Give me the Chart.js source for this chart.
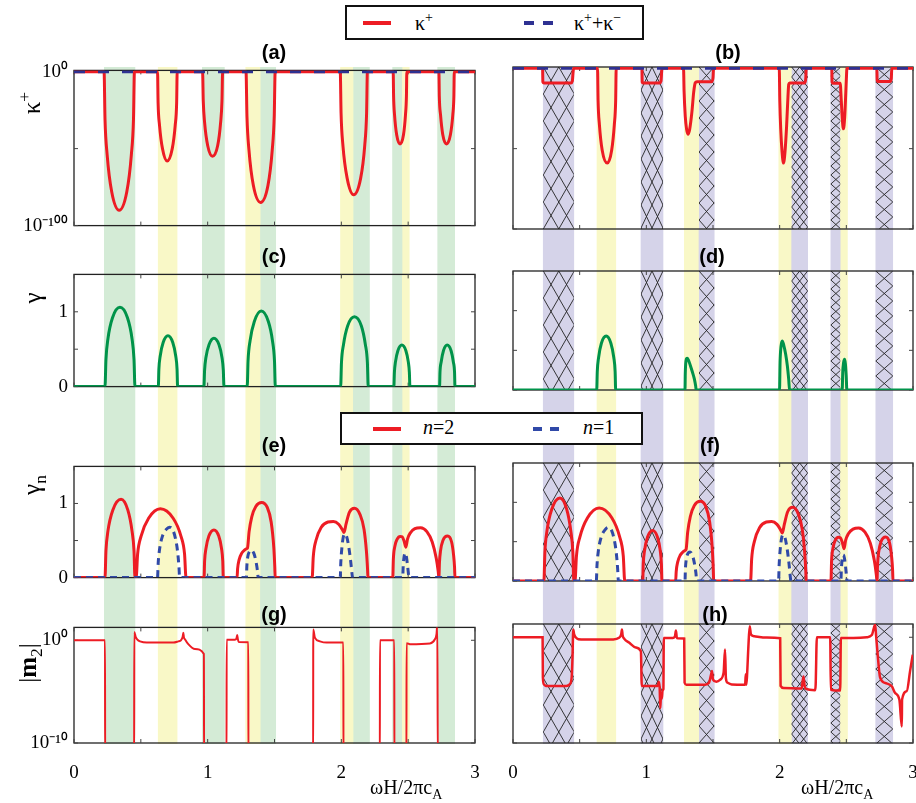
<!DOCTYPE html>
<html>
<head>
<meta charset="utf-8">
<script src="https://cdn.jsdelivr.net/npm/chart.js@4.4.1/dist/chart.umd.min.js"></script>
<style>
  body { margin: 0; background: #fff; width: 916px; height: 803px; overflow: hidden; position: relative; font-family: "Liberation Serif", serif; }
  canvas { position: absolute; }
  .ptitle { position: absolute; font: bold 20px "Liberation Sans", Arial, sans-serif; transform: translate(-50%, -50%); white-space: nowrap; }
  .ylab { position: absolute; font: 25px "Liberation Serif", serif; transform: translate(-50%, -50%) rotate(-90deg); white-space: nowrap; }
  .xlab { position: absolute; font: 20px "Liberation Serif", serif; white-space: nowrap; }
  .legend { position: absolute; background: #fff; border: 2.5px solid #111; box-sizing: border-box; z-index: 5; }
  .legend span { position: absolute; font: 20px "Liberation Serif", serif; white-space: nowrap; }
  .swatch { position: absolute; height: 4px; }
  sub, sup { font-size: 70%; }
</style>
</head>
<body>
<script>
// x axis (omega H / 2 pi c_A)
const xTicks = [0, 0.5, 1, 1.5, 2, 2.5, 3];
const xLabelTicks = [0, 1, 2, 3];

// shaded frequency bands
const gapBands = [[0.227, 0.456], [0.96, 1.125], [1.395, 1.509], [2.09, 2.21], [2.384, 2.454], [2.721, 2.848]];
const passBands = [[0.63, 0.771], [1.285, 1.395], [1.994, 2.09], [2.454, 2.508]];
// cross-hatch cell size (px) in each gap band: width, height
const hatchW = [15.5, 11, 15, 8, 10, 17];
const hatchH = [27, 23, 17, 10, 9, 15];

// (a) kappa+ and kappa+ + kappa-
const kappaPlusA = [
  [0, 1],
  [0.225, 1], [0.232, 1e-31], [0.248, 1e-54], [0.282, 1e-78], [0.338, 1e-90], [0.395, 1e-78], [0.429, 1e-54], [0.445, 1e-31], [0.452, 1],
  [0.625, 1], [0.629, 1e-20], [0.640, 1e-35], [0.662, 1e-50], [0.697, 1e-58], [0.735, 1e-50], [0.757, 1e-35], [0.768, 1e-20], [0.772, 1],
  [0.962, 1], [0.967, 1e-19], [0.977, 1e-33], [1.000, 1e-48], [1.036, 1e-55], [1.075, 1e-48], [1.097, 1e-33], [1.107, 1e-19], [1.112, 1],
  [1.287, 1], [1.294, 1e-29], [1.309, 1e-51], [1.342, 1e-74], [1.396, 1e-85], [1.451, 1e-74], [1.483, 1e-51], [1.498, 1e-29], [1.505, 1],
  [1.992, 1], [1.998, 1e-27], [2.012, 1e-48], [2.043, 1e-69], [2.092, 1e-80], [2.145, 1e-69], [2.175, 1e-48], [2.189, 1e-27], [2.195, 1],
  [2.388, 1], [2.391, 1e-16], [2.398, 1e-28], [2.414, 1e-41], [2.439, 1e-47], [2.465, 1e-41], [2.480, 1e-28], [2.487, 1e-16], [2.490, 1],
  [2.730, 1], [2.733, 1e-16], [2.742, 1e-28], [2.759, 1e-41], [2.787, 1e-47], [2.816, 1e-41], [2.834, 1e-28], [2.842, 1e-16], [2.845, 1],
  [3, 1]
];
const kappaSum = [[0, 1], [3, 1]];

// (b) kappa+ with absorption
const kappaPlusB = [
  [0, 1], [0.222, 1], [0.224, 3e-9], [0.232, 8e-10], [0.435, 8e-10], [0.445, 1e-8], [0.451, 1e-2], [0.455, 1],
  [0.634, 1], [0.638, 1e-20], [0.648, 1e-35], [0.669, 1e-51], [0.707, 1e-59], [0.740, 1e-51], [0.760, 1e-35], [0.770, 1e-20], [0.774, 1],
  [0.967, 1], [0.969, 3e-9], [0.975, 8e-10], [1.100, 8e-10], [1.110, 1e-8], [1.115, 1e-2], [1.117, 1],
  [1.279, 1], [1.283, 1e-14], [1.292, 1e-30], [1.302, 1e-38], [1.312, 1e-41], [1.325, 1e-38], [1.342, 1e-27], [1.355, 1e-15], [1.367, 1e-9], [1.380, 5e-9], [1.490, 5e-9], [1.500, 1e-6], [1.504, 1],
  [1.997, 1], [2.001, 1e-20], [2.008, 1e-38], [2.018, 1e-52], [2.029, 1e-59], [2.040, 1e-52], [2.052, 1e-36], [2.062, 1e-18], [2.068, 1e-10], [2.075, 8e-10], [2.188, 8e-10], [2.196, 1e-6], [2.199, 1],
  [2.391, 1], [2.393, 3e-9], [2.398, 5e-10], [2.454, 5e-10], [2.462, 1e-20], [2.470, 1e-32], [2.478, 2e-38], [2.488, 1e-30], [2.496, 1e-15], [2.502, 1e-3], [2.504, 1],
  [2.729, 1], [2.731, 3e-8], [2.737, 6e-9], [2.828, 6e-9], [2.837, 3e-7], [2.841, 1], [3, 1]
];

// (c) gamma, lossless
const gammaC = [
  [0, 0],
  [0.232, 0], [0.239, 0.36], [0.254, 0.64], [0.288, 0.92], [0.344, 1.06], [0.400, 0.92], [0.434, 0.64], [0.449, 0.36], [0.456, 0],
  [0.631, 0], [0.635, 0.23], [0.645, 0.41], [0.667, 0.59], [0.703, 0.68], [0.739, 0.59], [0.761, 0.41], [0.771, 0.23], [0.775, 0],
  [0.972, 0], [0.977, 0.22], [0.987, 0.39], [1.010, 0.56], [1.047, 0.647], [1.085, 0.56], [1.107, 0.39], [1.117, 0.22], [1.122, 0],
  [1.296, 0], [1.302, 0.34], [1.317, 0.61], [1.349, 0.87], [1.401, 1.01], [1.454, 0.87], [1.485, 0.61], [1.500, 0.34], [1.506, 0],
  [1.995, 0], [2.001, 0.32], [2.016, 0.56], [2.047, 0.81], [2.098, 0.933], [2.150, 0.81], [2.180, 0.56], [2.195, 0.32], [2.201, 0],
  [2.393, 0], [2.397, 0.19], [2.405, 0.33], [2.423, 0.48], [2.453, 0.555], [2.483, 0.48], [2.501, 0.33], [2.509, 0.19], [2.513, 0],
  [2.735, 0], [2.738, 0.19], [2.747, 0.33], [2.764, 0.48], [2.792, 0.555], [2.821, 0.48], [2.838, 0.33], [2.847, 0.19], [2.850, 0],
  [3, 0]
];

// (d) gamma, with absorption
const gammaD = [
  [0, 0],
  [0.628, 0], [0.632, 0.23], [0.642, 0.41], [0.663, 0.59], [0.699, 0.68], [0.734, 0.59], [0.756, 0.41], [0.766, 0.23], [0.770, 0],
  [1.290, 0], [1.292, 0.2], [1.295, 0.33], [1.300, 0.39], [1.306, 0.40], [1.315, 0.38], [1.330, 0.31], [1.345, 0.23], [1.360, 0.14], [1.370, 0.05], [1.374, 0],
  [1.999, 0], [2.003, 0.35], [2.010, 0.55], [2.019, 0.618], [2.030, 0.57], [2.045, 0.45], [2.058, 0.3], [2.068, 0.13], [2.074, 0],
  [2.469, 0], [2.473, 0.22], [2.479, 0.34], [2.487, 0.387], [2.493, 0.33], [2.499, 0.18], [2.504, 0],
  [3, 0]
];

// (e),(f) gamma_n, n = 2 and n = 1
const gammaN2 = [
  [0, 0],
  [0.232, 0], [0.239, 0.36], [0.254, 0.63], [0.290, 0.91], [0.352, 1.056], [0.403, 0.91], [0.434, 0.63], [0.449, 0.36], [0.456, 0],
  [0.465, 0], [0.476, 0.32], [0.502, 0.56], [0.558, 0.80], [0.646, 0.928], [0.742, 0.80], [0.800, 0.56], [0.827, 0.32], [0.838, 0],
  [0.973, 0], [0.977, 0.22], [0.987, 0.39], [1.009, 0.56], [1.047, 0.643], [1.083, 0.56], [1.104, 0.39], [1.113, 0.22], [1.117, 0],
  [1.220, 0], [1.224, 0.12], [1.235, 0.24], [1.255, 0.33], [1.275, 0.37], [1.292, 0.39], [1.298, 0.40], [1.310, 0.62], [1.330, 0.82], [1.360, 0.96], [1.404, 1.013], [1.445, 0.95], [1.475, 0.75], [1.495, 0.4], [1.502, 0.15], [1.505, 0],
  [1.782, 0], [1.790, 0.28], [1.810, 0.50], [1.850, 0.68], [1.900, 0.75], [1.940, 0.757], [1.980, 0.72], [2.010, 0.64], [2.020, 0.609], [2.035, 0.72], [2.060, 0.88], [2.098, 0.936], [2.140, 0.85], [2.170, 0.65], [2.188, 0.35], [2.196, 0.12], [2.199, 0],
  [2.385, 0], [2.389, 0.24], [2.400, 0.42], [2.418, 0.52], [2.440, 0.556], [2.455, 0.55], [2.470, 0.49], [2.483, 0.41], [2.495, 0.52], [2.515, 0.60], [2.550, 0.66], [2.593, 0.673], [2.640, 0.62], [2.680, 0.48], [2.710, 0.26], [2.725, 0.08], [2.730, 0],
  [2.734, 0.2], [2.742, 0.36], [2.760, 0.50], [2.795, 0.56], [2.825, 0.48], [2.840, 0.3], [2.847, 0.14], [2.850, 0],
  [3, 0]
];
const gammaN1 = [
  [0, 0],
  [0.625, 0], [0.630, 0.2], [0.640, 0.38], [0.660, 0.55], [0.690, 0.65], [0.715, 0.68], [0.740, 0.64], [0.760, 0.52], [0.775, 0.35], [0.785, 0.15], [0.790, 0],
  [1.290, 0], [1.293, 0.15], [1.300, 0.28], [1.312, 0.35], [1.327, 0.37], [1.345, 0.33], [1.360, 0.23], [1.372, 0.1], [1.378, 0],
  [1.992, 0], [1.996, 0.2], [2.004, 0.40], [2.014, 0.54], [2.026, 0.588], [2.040, 0.55], [2.055, 0.42], [2.070, 0.22], [2.080, 0.05], [2.084, 0],
  [2.459, 0], [2.463, 0.16], [2.469, 0.28], [2.477, 0.332], [2.486, 0.29], [2.495, 0.17], [2.502, 0.05], [2.505, 0],
  [3, 0]
];

// (g),(h) |m2|
const m2G = [
  [0, 1], [0.232, 1], [0.233, 1e-12], [0.450, 1e-12], [0.451, 6.3], [0.462, 2], [0.475, 1.12], [0.494, 0.79], [0.544, 0.6], [0.743, 0.6],
  [0.780, 0.79], [0.800, 1], [0.813, 2.2], [0.818, 5.4], [0.822, 2], [0.830, 1.26], [0.855, 0.42], [0.905, 0.14], [0.972, 0.047], [0.973, 1e-12],
  [1.141, 1e-12], [1.142, 1.15], [1.204, 1.15], [1.215, 1.4], [1.221, 3.2], [1.226, 1.26], [1.232, 0.69], [1.304, 0.63], [1.305, 1e-12],
  [1.789, 1e-12], [1.790, 11], [1.802, 1.8], [1.840, 0.79], [1.890, 0.6], [2.015, 0.6], [2.016, 1e-12],
  [2.288, 1e-12], [2.289, 1], [2.396, 1], [2.397, 1e-12],
  [2.487, 1e-12], [2.488, 0.52], [2.513, 0.42], [2.663, 0.5], [2.700, 1.26], [2.712, 4], [2.718, 32], [2.722, 1e-12], [3, 1e-12]
];
const m2H = [
  [0, 1], [0.222, 1], [0.224, 1.6e-4], [0.232, 3.5e-5], [0.250, 2.4e-5], [0.400, 2.5e-5], [0.425, 3.5e-5], [0.440, 1.6e-4], [0.446, 1e-2],
  [0.452, 5.4], [0.458, 2], [0.470, 1], [0.490, 0.66], [0.540, 0.6], [0.750, 0.63], [0.795, 0.89], [0.812, 2], [0.817, 5.4], [0.822, 1.6],
  [0.835, 0.71], [0.870, 0.32], [0.920, 0.11], [0.959, 0.047], [0.966, 2.5e-5], [1.085, 2.5e-5], [1.093, 6.3e-5], [1.100, 1.6e-5],
  [1.105, 2e-7], [1.110, 5e-6], [1.116, 1.6e-6], [1.122, 1e-5], [1.128, 1.26e-5], [1.131, 0.87], [1.200, 0.87], [1.215, 1.26], [1.222, 4.3],
  [1.228, 1], [1.236, 0.79], [1.284, 0.76], [1.287, 5e-5], [1.300, 3.3e-5], [1.440, 3.3e-5], [1.470, 5e-5], [1.486, 3.2e-4], [1.492, 6.3e-4],
  [1.500, 1e-4], [1.525, 6.3e-5], [1.555, 1e-4], [1.580, 5e-4], [1.590, 0.069], [1.597, 1.26e-4], [1.610, 5e-5], [1.640, 3.5e-5],
  [1.741, 3.3e-5], [1.746, 3.2e-4], [1.750, 3.3e-5], [1.755, 2e-4], [1.765, 0.1], [1.775, 11], [1.785, 1.8], [1.810, 1.26], [1.904, 0.93],
  [2.004, 0.79], [2.007, 2.5e-5], [2.030, 1.6e-5], [2.165, 1.4e-5], [2.172, 6.3e-5], [2.179, 2e-4], [2.186, 3.2e-5], [2.195, 1.4e-5],
  [2.266, 1e-5], [2.270, 3.2e-5], [2.279, 1], [2.379, 1], [2.384, 1.1e-5], [2.454, 9e-6], [2.459, 0.87], [2.553, 0.87], [2.654, 1],
  [2.691, 1.6], [2.716, 16], [2.723, 1.6], [2.733, 0.047], [2.753, 1.6e-4], [2.791, 4.8e-5], [2.841, 2.3e-5], [2.866, 5.4e-6],
  [2.898, 1.26e-6], [2.916, 3.7e-9], [2.918, 1.26e-6], [2.953, 8e-6], [2.978, 6.3e-4], [2.998, 0.023]
];

// y ticks per panel type
const kappaTicks = [1e-100, 1e-50, 1];
const kappaTickLabels = ['10⁻¹⁰⁰', '', '10⁰'];
const gammaTicks = [0, 0.5, 1];
const gammaTickLabels = ['0', '', '1'];
const mTicks = [1e-10, 1];
const mTickLabels = ['10⁻¹⁰', '10⁰'];

const RED = '#ed1c24', NAVY = '#2e3192', BLUE = '#3049a8', GREEN = '#00934a';
const C_GREEN = 'rgb(212,235,214)', C_YELLOW = 'rgb(249,248,199)', C_PURPLE = 'rgb(213,211,233)';
const SERIF = '"Liberation Serif", "Times New Roman", serif';

const toXY = pts => pts.map(p => ({ x: p[0], y: p[1] }));

// full-height shaded bands behind each column
function bandChart(left, width, gapColor) {
  const cv = document.createElement('canvas');
  cv.width = width; cv.height = 677;
  cv.style.left = left + 'px'; cv.style.top = '67px';
  document.body.appendChild(cv);
  const bands = [
    ...gapBands.map(b => ({ r: b, c: gapColor })),
    ...passBands.map(b => ({ r: b, c: C_YELLOW }))
  ];
  new Chart(cv, {
    type: 'bar',
    data: {
      labels: [''],
      datasets: bands.map(b => ({ data: [b.r], backgroundColor: b.c, borderWidth: 0, grouped: false, barPercentage: 1, categoryPercentage: 1 }))
    },
    options: {
      indexAxis: 'y', responsive: false, animation: false, events: [], devicePixelRatio: 1,
      layout: { padding: 0 },
      plugins: { legend: { display: false }, tooltip: { enabled: false } },
      scales: { x: { type: 'linear', min: 0, max: 3, display: false }, y: { display: false } }
    }
  });
}

// band fill, cross hatching, box and inward ticks of one panel
function framePlugin(p) {
  return {
    id: 'frame',
    beforeDatasetsDraw(chart) {
      const { ctx, chartArea: a } = chart;
      const xs = chart.scales.x, ys = chart.scales.y;
      const h = a.bottom - a.top;
      ctx.save();
      const gapColor = p.hatch ? C_PURPLE : C_GREEN;
      [[gapBands, gapColor], [passBands, C_YELLOW]].forEach(([list, color]) => {
        ctx.fillStyle = color;
        list.forEach(b => {
          const x0 = xs.getPixelForValue(b[0]), x1 = xs.getPixelForValue(b[1]);
          ctx.fillRect(x0, a.top, x1 - x0, h);
        });
      });
      if (p.hatch) {
        gapBands.forEach((b, i) => {
          const x0 = xs.getPixelForValue(b[0]), x1 = xs.getPixelForValue(b[1]);
          const w = hatchW[i], dx = h * w / hatchH[i];
          ctx.save();
          ctx.beginPath(); ctx.rect(x0, a.top, x1 - x0, h); ctx.clip();
          ctx.beginPath();
          for (let k = x0 - Math.ceil(dx / w) * w; k < x1 + dx + w; k += w) {
            ctx.moveTo(k, a.top); ctx.lineTo(k + dx, a.bottom);
            ctx.moveTo(k, a.top); ctx.lineTo(k - dx, a.bottom);
          }
          ctx.strokeStyle = '#222'; ctx.lineWidth = 0.9; ctx.stroke();
          ctx.restore();
        });
      }
      ctx.strokeStyle = '#222'; ctx.lineWidth = 1.3;
      ctx.strokeRect(a.left, a.top, a.right - a.left, a.bottom - a.top);
      ctx.lineWidth = 1; ctx.strokeStyle = '#444';
      ctx.beginPath();
      xTicks.forEach(v => {
        const px = xs.getPixelForValue(v);
        ctx.moveTo(px, a.bottom); ctx.lineTo(px, a.bottom - 4);
        ctx.moveTo(px, a.top); ctx.lineTo(px, a.top + 4);
      });
      p.yTicks.forEach(v => {
        const py = ys.getPixelForValue(v);
        ctx.moveTo(a.left, py); ctx.lineTo(a.left + 4, py);
        ctx.moveTo(a.right, py); ctx.lineTo(a.right - 4, py);
      });
      ctx.stroke();
      ctx.restore();
    }
  };
}

function panel(p) {
  const padTop = 14;
  const xH = p.showX ? 38 : 0;
  const padBottom = p.showX ? 2 : 14;
  const left = p.col === 0 ? 0 : 493;
  const width = p.col === 0 ? 495 : 440;
  const cv = document.createElement('canvas');
  cv.width = width;
  cv.height = (p.bottom - p.top) + padTop + padBottom + xH;
  cv.style.left = left + 'px'; cv.style.top = (p.top - padTop) + 'px';
  document.body.appendChild(cv);
  const showY = p.col === 0;
  new Chart(cv, {
    type: 'line',
    data: {
      datasets: p.series.map(s => ({
        data: toXY(s.data), borderColor: s.color, borderWidth: s.width, borderDash: s.dash || [],
        pointRadius: 0, fill: false, cubicInterpolationMode: 'monotone'
      }))
    },
    options: {
      responsive: false, animation: false, events: [], devicePixelRatio: 1,
      layout: { padding: { left: showY ? 0 : 20, right: 20, top: padTop, bottom: padBottom } },
      plugins: { legend: { display: false }, tooltip: { enabled: false } },
      scales: {
        x: {
          type: 'linear', min: 0, max: 3, display: !!p.showX,
          afterBuildTicks: s => { s.ticks = xLabelTicks.map(v => ({ value: v })); },
          afterFit: s => { if (p.showX) s.height = xH; },
          ticks: { callback: v => String(v), font: { family: SERIF, size: 19 }, color: '#000', padding: 2, maxRotation: 0, autoSkip: false },
          grid: { display: false, drawTicks: true, tickLength: 17 }, border: { display: false }
        },
        y: {
          type: p.log ? 'logarithmic' : 'linear', min: p.min, max: p.max, display: showY,
          afterBuildTicks: s => { s.ticks = p.yTicks.map(v => ({ value: v })); },
          afterFit: s => { if (showY) s.width = 74; },
          ticks: { callback: (v, i) => p.yLabels[i], font: { family: SERIF, size: 19 }, color: '#000', padding: 6, autoSkip: false },
          grid: { display: false, drawTicks: false }, border: { display: false }
        }
      }
    },
    plugins: [framePlugin(p)]
  });
}

bandChart(74, 401, C_GREEN);
bandChart(513, 400, C_PURPLE);

const rows = [
  { top: 67, bottom: 229 },
  { top: 271, bottom: 390 },
  { top: 463, bottom: 581 },
  { top: 624, bottom: 743 }
];
const kappaAxis = { log: true, min: 1e-100, max: 6.3, yTicks: kappaTicks, yLabels: kappaTickLabels };
const gammaAxis = { log: false, min: 0, max: 1.5, yTicks: gammaTicks, yLabels: gammaTickLabels };
const mAxis = { log: true, min: 1e-10, max: 18, yTicks: mTicks, yLabels: mTickLabels };

panel({ col: 0, ...rows[0], ...kappaAxis, series: [
  { data: kappaSum, color: NAVY, width: 3, dash: [11, 13] },
  { data: kappaPlusA, color: RED, width: 3 }
] });
panel({ col: 1, ...rows[0], ...kappaAxis, hatch: true, series: [
  { data: kappaSum, color: NAVY, width: 3, dash: [11, 13] },
  { data: kappaPlusB, color: RED, width: 3 }
] });
panel({ col: 0, ...rows[1], ...gammaAxis, series: [{ data: gammaC, color: GREEN, width: 3 }] });
panel({ col: 1, ...rows[1], ...gammaAxis, hatch: true, series: [{ data: gammaD, color: GREEN, width: 3 }] });
panel({ col: 0, ...rows[2], ...gammaAxis, series: [
  { data: gammaN1, color: BLUE, width: 3, dash: [7, 5] },
  { data: gammaN2, color: RED, width: 3 }
] });
panel({ col: 1, ...rows[2], ...gammaAxis, hatch: true, series: [
  { data: gammaN1, color: BLUE, width: 3, dash: [7, 5] },
  { data: gammaN2, color: RED, width: 3 }
] });
panel({ col: 0, ...rows[3], ...mAxis, showX: true, series: [{ data: m2G, color: RED, width: 2 }] });
panel({ col: 1, ...rows[3], ...mAxis, showX: true, hatch: true, series: [{ data: m2H, color: RED, width: 2.5 }] });

// text: panel titles, axis labels, legends
const html = `
<div class="ptitle" style="left:274px;top:52px">(a)</div>
<div class="ptitle" style="left:728px;top:52px">(b)</div>
<div class="ptitle" style="left:274px;top:256px">(c)</div>
<div class="ptitle" style="left:712px;top:256px">(d)</div>
<div class="ptitle" style="left:274px;top:445px">(e)</div>
<div class="ptitle" style="left:710px;top:445px">(f)</div>
<div class="ptitle" style="left:274px;top:614px">(g)</div>
<div class="ptitle" style="left:715px;top:614px">(h)</div>
<div class="ylab" style="left:30px;top:103px">κ<sup>+</sup></div>
<div class="ylab" style="left:33px;top:298px">γ</div>
<div class="ylab" style="left:34px;top:485px">γ<sub>n</sub></div>
<div class="ylab" style="left:30px;top:663px">|<b>m</b><sub>2</sub>|</div>
<div class="xlab" style="left:370px;top:776px">ωH/2πc<sub>A</sub></div>
<div class="xlab" style="left:801px;top:776px">ωH/2πc<sub>A</sub></div>
<div class="legend" style="left:345px;top:5px;width:299px;height:35px">
  <div class="swatch" style="left:16px;top:14px;width:28px;background:${RED}"></div>
  <span style="left:68px;top:3px">κ<sup>+</sup></span>
  <div class="swatch" style="left:177px;top:14px;width:10px;background:${NAVY}"></div>
  <div class="swatch" style="left:196px;top:14px;width:10px;background:${NAVY}"></div>
  <span style="left:227px;top:3px">κ<sup>+</sup>+κ<sup>−</sup></span>
</div>
<div class="legend" style="left:340px;top:412px;width:303px;height:33px">
  <div class="swatch" style="left:31px;top:13px;width:28px;background:${RED}"></div>
  <span style="left:81px;top:2px"><i>n</i>=2</span>
  <div class="swatch" style="left:191px;top:13px;width:9px;background:${BLUE}"></div>
  <div class="swatch" style="left:208px;top:13px;width:9px;background:${BLUE}"></div>
  <span style="left:241px;top:2px"><i>n</i>=1</span>
</div>`;
document.body.insertAdjacentHTML('beforeend', html);
</script>
</body>
</html>
